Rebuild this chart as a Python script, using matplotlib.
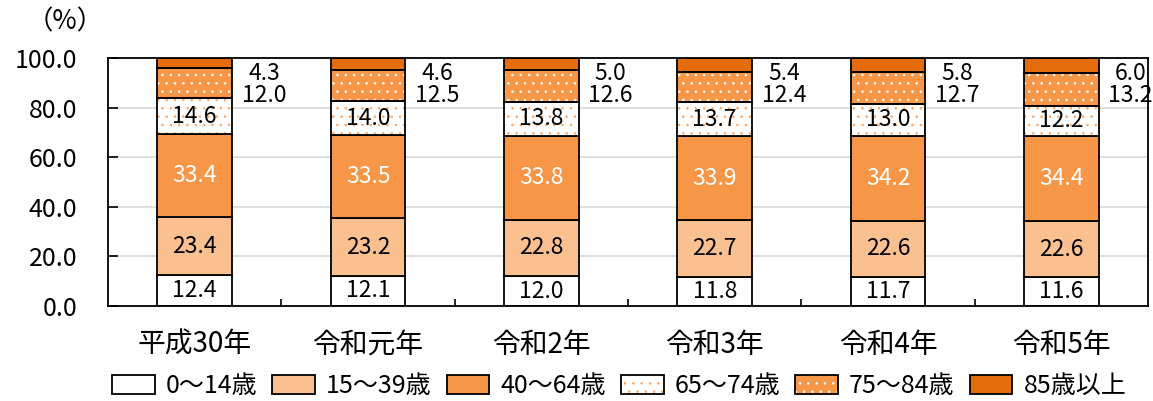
import matplotlib
matplotlib.use("Agg")
import matplotlib.pyplot as plt
from matplotlib.legend_handler import HandlerTuple
import numpy as np

plt.rcParams['font.family'] = ['Noto Sans CJK JP', 'DejaVu Sans']
plt.rcParams['hatch.linewidth'] = 0.6

categories = ['平成30年', '令和元年', '令和2年', '令和3年', '令和4年', '令和5年']
series_names = ['0～14歳', '15～39歳', '40～64歳', '65～74歳', '75～84歳', '85歳以上']
age_0_14 = [12.4, 12.1, 12.0, 11.8, 11.7, 11.6]
age_15_39 = [23.4, 23.2, 22.8, 22.7, 22.6, 22.6]
age_40_64 = [33.4, 33.5, 33.8, 33.9, 34.2, 34.4]
age_65_74 = [14.6, 14.0, 13.8, 13.7, 13.0, 12.2]
age_75_84 = [12.0, 12.5, 12.6, 12.4, 12.7, 13.2]
age_85_up = [4.3, 4.6, 5.0, 5.4, 5.8, 6.0]
yticks = [0, 20, 40, 60, 80, 100]

series = [age_0_14, age_15_39, age_40_64, age_65_74, age_75_84, age_85_up]
faces = ['white', '#FAC090', '#F79646', 'white', '#F79646', '#E46C0A']
hatch_cols = [None, None, None, '#F9A866', 'white', None]
text_cols = ['black', 'black', 'white', 'black', None, None]

fig = plt.figure(figsize=(11.53, 4.01), dpi=100)
ax = fig.add_axes([0.0937, 0.2369, 0.9020, 0.6185])

x = np.arange(len(categories))
width = 0.43
bottom = np.zeros(len(categories))
handles = []
for vals, fc, hc, tc in zip(series, faces, hatch_cols, text_cols):
    vals = np.array(vals)
    parts = []
    if hc is not None:
        hb = ax.bar(x, vals, width, bottom=bottom, color=fc, edgecolor=hc,
                    hatch='..', linewidth=0, zorder=3)
        parts.append(hb)
        bb = ax.bar(x, vals, width, bottom=bottom, facecolor='none',
                    edgecolor='black', linewidth=1.3, zorder=4)
    else:
        bb = ax.bar(x, vals, width, bottom=bottom, color=fc,
                    edgecolor='black', linewidth=1.3, zorder=3)
    parts.append(bb)
    handles.append(tuple(parts))
    if tc is not None:
        for xi, b, v in zip(x, bottom, vals):
            ax.text(xi, b + v / 2, f'{v:.1f}', ha='center', va='center',
                    fontsize=16.5, color=tc, zorder=5)
    bottom = bottom + vals

# labels for the two top segments, outside right of the bars
for xi, v85, v75 in zip(x, age_85_up, age_75_84):
    ax.text(xi + 0.40, 89.4, f'{v85:.1f}\n{v75:.1f}', ha='center', va='center',
            fontsize=16.5, color='black', zorder=5, linespacing=0.92)

ax.set_xlim(-0.5, len(categories) - 0.5)
ax.set_ylim(0, 100)
ax.set_yticks(yticks)
ax.set_yticklabels([f'{t:.1f}' for t in yticks], fontsize=18)
ax.tick_params(axis='y', direction='in', length=7, width=1.2, pad=22)
ax.set_xticks(x)
ax.set_xticklabels(categories, fontsize=20)
ax.tick_params(axis='x', which='major', length=0, pad=17)
ax.set_xticks(np.arange(0.5, len(categories) - 0.5, 1.0), minor=True)
ax.tick_params(axis='x', which='minor', direction='in', length=5, width=1.2)
ax.grid(axis='y', color='#D9D9D9', linewidth=1.2, zorder=0)
ax.set_axisbelow(True)
for s in ax.spines.values():
    s.set_linewidth(1.3)
    s.set_zorder(6)

fig.text(0.0564, 0.945, '（%）', ha='center', va='center', fontsize=19)

fig.legend(handles, series_names, loc='center', bbox_to_anchor=(0.537, 0.037),
           ncol=6, frameon=False, fontsize=18, handlelength=1.7, handleheight=0.8,
           handletextpad=0.45, columnspacing=0.6,
           handler_map={tuple: HandlerTuple(ndivide=1, pad=0)})

fig.savefig('out.png', dpi=100)
